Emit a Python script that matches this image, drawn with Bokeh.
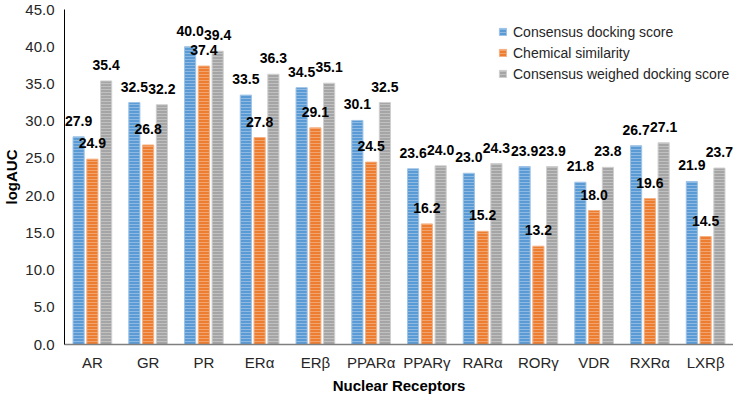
from bokeh.plotting import figure
from bokeh.models import ColumnDataSource, FactorRange, Range1d, LabelSet, Legend, LegendItem, SingleIntervalTicker, NumeralTickFormatter
from bokeh.core.properties import value
from bokeh.transform import dodge
from bokeh.embed import file_html
from bokeh.resources import INLINE

receptors = ["AR", "GR", "PR", "ERα", "ERβ", "PPARα", "PPARγ", "RARα", "RORγ", "VDR", "RXRα", "LXRβ"]
consensus_docking = [27.9, 32.5, 40.0, 33.5, 34.5, 30.1, 23.6, 23.0, 23.9, 21.8, 26.7, 21.9]
chemical_similarity = [24.9, 26.8, 37.4, 27.8, 29.1, 24.5, 16.2, 15.2, 13.2, 18.0, 19.6, 14.5]
consensus_weighed = [35.4, 32.2, 39.4, 36.3, 35.1, 32.5, 24.0, 24.3, 23.9, 23.8, 27.1, 23.7]
series_names = ["Consensus docking score", "Chemical similarity", "Consensus weighed docking score"]

src = ColumnDataSource(dict(
    x=receptors,
    a=consensus_docking, b=chemical_similarity, c=consensus_weighed,
    la=[f"{v:.1f}" for v in consensus_docking],
    lb=[f"{v:.1f}" for v in chemical_similarity],
    lc=[f"{v:.1f}" for v in consensus_weighed],
))

p = figure(width=733, height=396, x_range=FactorRange(*receptors), y_range=Range1d(0, 45),
           output_backend="svg", toolbar_location=None,
           min_border_left=57, min_border_right=0, min_border_top=9, min_border_bottom=40)
p.outline_line_color = None
p.grid.visible = False
p.background_fill_color = "white"

fills = ["#5B9BD5", "#ED7D31", "#A5A5A5"]
edges = ["#9DC3E6", "#F4B183", "#CFCFCF"]
cols = ["a", "b", "c"]
lcols = ["la", "lb", "lc"]
offs = [-0.247, 0.0, 0.247]
renderers = []
for f, e, c, lc, o in zip(fills, edges, cols, lcols, offs):
    r = p.vbar(x=dodge("x", o, range=p.x_range), top=c, width=0.2, source=src,
               fill_color=f, line_color=e, line_width=1,
               hatch_pattern="horizontal_line", hatch_color="white", hatch_alpha=0.3,
               hatch_scale=3, hatch_weight=1)
    renderers.append(r)
    labels = LabelSet(x=dodge("x", o, range=p.x_range), y=c, text=lc, source=src,
                      text_align="center", text_baseline="bottom", y_offset=11,
                      text_font=value("Liberation Sans"), text_font_size=value("14px"),
                      text_font_style=value("bold"), text_color=value("#000000"))
    p.add_layout(labels)

legend = Legend(items=[LegendItem(label=n, renderers=[r]) for n, r in zip(series_names, renderers)],
                location=(434, 262), orientation="vertical",
                label_text_font="Liberation Sans", label_text_font_size="14px",
                label_text_color="#262626", glyph_width=9, glyph_height=9,
                label_height=17, label_standoff=6, spacing=4, padding=0,
                border_line_color=None, background_fill_alpha=0)
p.add_layout(legend)

p.yaxis.ticker = SingleIntervalTicker(interval=5)
p.yaxis.formatter = NumeralTickFormatter(format="0.0")
for ax in (p.xaxis[0], p.yaxis[0]):
    ax.major_tick_out = 0
    ax.major_tick_in = 0
    ax.minor_tick_out = 0
    ax.minor_tick_in = 0
    ax.major_label_text_font = "Liberation Sans"
    ax.major_label_text_font_size = "15px"
    ax.major_label_text_color = "#262626"
    ax.axis_label_text_font = "Liberation Sans"
    ax.axis_label_text_font_style = "bold"
    ax.axis_label_text_color = "#000000"

p.yaxis.axis_label = "logAUC"
p.yaxis.axis_label_text_font_size = "15px"
p.yaxis.axis_line_color = "#000000"
p.yaxis.major_label_standoff = 10
p.yaxis.axis_label_standoff = 2

p.xaxis.axis_label = "Nuclear Receptors"
p.xaxis.axis_label_text_font_size = "15px"
p.xaxis.axis_line_color = "#7F7F7F"
p.xaxis.axis_line_width = 1.5
p.xaxis.major_label_standoff = 9
p.xaxis.axis_label_standoff = 3

open("out.html", "w").write(file_html(p, INLINE))
